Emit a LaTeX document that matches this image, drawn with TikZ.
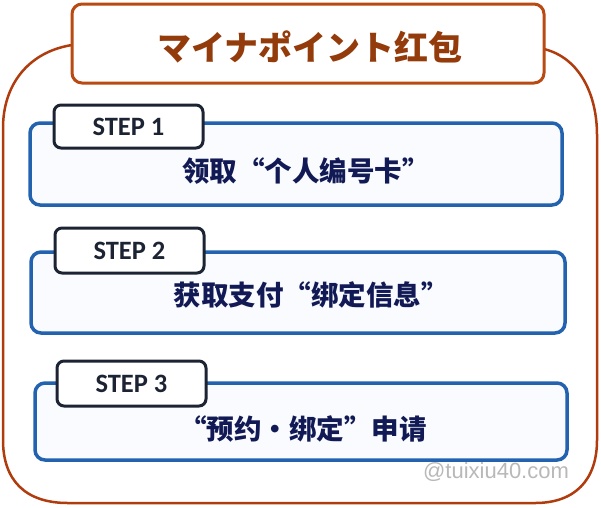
\documentclass[tikz,border=0pt]{standalone}
\usepackage{fontspec}
\setmainfont{Carlito}
\newfontfamily\cjk{Noto Sans CJK SC}
\newfontfamily\wm{Liberation Sans}
\definecolor{outerc}{HTML}{B03C0E}
\definecolor{titlec}{HTML}{B84A12}
\definecolor{titletxt}{HTML}{933B0A}
\definecolor{bluec}{HTML}{2262AE}
\definecolor{bluefill}{HTML}{F9FBFE}
\definecolor{labelc}{HTML}{1C2333}
\definecolor{navy}{HTML}{121A55}
\definecolor{wmc}{HTML}{B8B8B8}
\begin{document}
\begin{tikzpicture}[x=1pt,y=-1pt,
  titlebox/.style={draw=titlec,line width=3pt,rounded corners=10pt,fill=white,inner sep=0pt},
  bluebox/.style={draw=bluec,line width=3.5pt,rounded corners=10pt,fill=bluefill,inner sep=0pt},
  labelbox/.style={draw=labelc,line width=3pt,rounded corners=7pt,fill=white,inner sep=0pt,minimum width=149pt},
  labeltxt/.style={font=\fontsize{26.5}{28}\selectfont\bfseries,text=labelc,inner sep=0pt},
  steptxt/.style={font=\cjk\bfseries\fontsize{27.5}{30}\selectfont,text=navy,inner sep=0pt}]
\useasboundingbox (0,0) rectangle (601,507);
% outer frame
\draw[outerc,line width=2.5pt] (72,45) .. controls (28,52) and (3,85) .. (3,128) -- (3,440)
  .. controls (3,480) and (25,503) .. (68,503) -- (535,503)
  .. controls (575,503) and (597,480) .. (597,440) -- (597,135)
  .. controls (597,95) and (580,58) .. (544,49);
% title
\node[titlebox,minimum width=472pt,minimum height=79pt] (title) at (308,43.5) {};
\node[font=\cjk\bfseries\fontsize{34}{36}\selectfont,text=titletxt,inner sep=0pt] (titletext) at (310,47) {マイナポイント红包};
% step 1
\node[bluebox,minimum width=532pt,minimum height=82pt] (box1) at (296,164) {};
\node[labelbox,minimum height=43pt] (lab1) at (128.5,126.5) {};
\node[labeltxt] (lt1) at (128.5,127) {STEP 1};
\node[steptxt] (t1) at (306,171) {领取“个人编号卡”};
% step 2
\node[bluebox,minimum width=534pt,minimum height=81pt] (box2) at (298,292.5) {};
\node[labelbox,minimum height=45pt] (lab2) at (129.5,250.5) {};
\node[labeltxt] (lt2) at (129.5,251) {STEP 2};
\node[steptxt] (t2) at (311,295) {获取支付“绑定信息”};
% step 3
\node[bluebox,minimum width=532pt,minimum height=77pt] (box3) at (301,421.5) {};
\node[labelbox,minimum height=45pt] (lab3) at (131.5,383.5) {};
\node[labeltxt] (lt3) at (131.5,384) {STEP 3};
\node[steptxt] (t3) at (303,429) {“预约・绑定”申请};
% watermark
\node[font=\wm\fontsize{22}{24}\selectfont,text=wmc,inner sep=0pt] (wm) at (496,472) {@tuixiu40.com};
\end{tikzpicture}
\end{document}
